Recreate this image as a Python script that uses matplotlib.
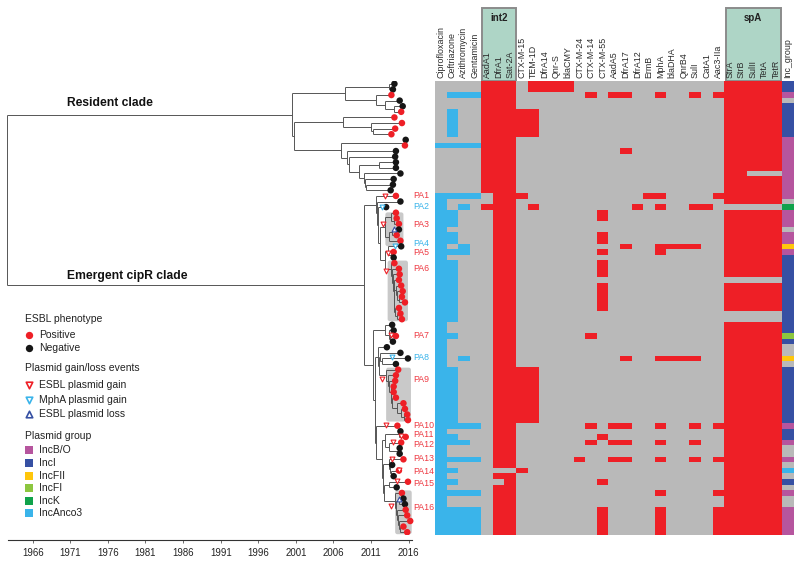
import numpy as np
import matplotlib
matplotlib.use('Agg')
import matplotlib.pyplot as plt
from matplotlib.collections import LineCollection
from matplotlib.colors import ListedColormap
from matplotlib.patches import FancyBboxPatch, Rectangle

plt.rcParams['font.family'] = ['Liberation Sans', 'DejaVu Sans']

# ---- heatmap columns
columns = ['Ciprofloxacin', 'Ceftriazone', 'Azithromycin', 'Gentamicin',
           'AadA1', 'DfrA1', 'Sat-2A', 'CTX-M-15', 'TEM-1D', 'DfrA14', 'Qnr-S',
           'blaCMY', 'CTX-M-24', 'CTX-M-14', 'CTX-M-55', 'AadA5', 'DfrA17',
           'DfrA12', 'ErmB', 'MphA', 'blaDHA', 'QnrB4', 'SulI', 'CatA1',
           'Aac3-IIa', 'StrA', 'StrB', 'SulII', 'TetA', 'TetR', 'Inc_group']

# rows (first, last) where each phenotype is resistant
ciprofloxacin = [(11, 11), (20, 80)]
ceftriazone = [(2, 2), (5, 9), (11, 11), (20, 20), (23, 25), (27, 28), (30, 30),
               (32, 42), (45, 45), (51, 61), (63, 64), (67, 67), (69, 69),
               (71, 71), (73, 73), (76, 80)]
azithromycin = [(2, 2), (11, 11), (20, 20), (22, 22), (29, 30), (49, 49),
                (61, 61), (64, 64), (67, 67), (73, 73), (76, 80)]
gentamicin = [(2, 2), (11, 11), (20, 20), (61, 61), (67, 67), (73, 73), (76, 80)]
phenotypes = [ciprofloxacin, ceftriazone, azithromycin, gentamicin]

# rows (first, last) where each gene is present
aada1 = [(0, 19), (22, 22)]
dfra1 = [(0, 68), (70, 70), (72, 80)]
sat2a = [(0, 68), (70, 80)]
ctxm15 = [(5, 9), (20, 20), (51, 60), (69, 69)]
tem1d = [(0, 1), (5, 9), (22, 22), (51, 60)]
dfra14 = [(0, 1)]
qnrs = [(0, 1)]
blacmy = [(0, 1)]
ctxm24 = [(67, 67)]
ctxm14 = [(2, 2), (45, 45), (61, 61), (64, 64)]
ctxm55 = [(23, 24), (27, 28), (30, 30), (32, 34), (36, 40), (63, 63), (71, 71), (76, 80)]
aada5 = [(2, 2), (61, 61), (64, 64), (67, 67)]
dfra17 = [(2, 2), (12, 12), (29, 29), (49, 49), (61, 61), (64, 64), (67, 67)]
dfra12 = [(22, 22)]
ermb = [(20, 20)]
mpha = [(2, 2), (20, 20), (22, 22), (29, 30), (49, 49), (61, 61), (64, 64), (67, 67), (73, 73), (76, 80)]
bladha = [(29, 29), (49, 49)]
qnrb4 = [(29, 29), (49, 49)]
suli = [(2, 2), (22, 22), (29, 29), (49, 49), (61, 61), (64, 64), (67, 67)]
cata1 = [(22, 22)]
aac3 = [(2, 2), (20, 20), (61, 61), (67, 67), (73, 73), (76, 80)]
stra = [(0, 21), (23, 34), (36, 40), (43, 80)]
strb = [(0, 21), (23, 34), (36, 40), (43, 80)]
sulii = [(0, 15), (17, 21), (23, 34), (36, 40), (43, 80)]
teta = [(0, 15), (17, 21), (23, 34), (36, 40), (43, 80)]
tetr = [(0, 15), (17, 21), (23, 34), (36, 40), (43, 80)]
genes = [aada1, dfra1, sat2a, ctxm15, tem1d, dfra14, qnrs, blacmy, ctxm24, ctxm14,
         ctxm55, aada5, dfra17, dfra12, ermb, mpha, bladha, qnrb4, suli, cata1,
         aac3, stra, strb, sulii, teta, tetr]

plasmid_groups = ['IncB/O', 'IncI', 'IncFII', 'IncFI', 'IncK', 'IncAnco3']
inc_group = [(0, 1, 'IncI'), (2, 2, 'IncB/O'), (4, 9, 'IncI'), (10, 20, 'IncB/O'),
             (22, 22, 'IncK'), (23, 25, 'IncB/O'), (27, 28, 'IncB/O'), (29, 29, 'IncFII'),
             (30, 30, 'IncB/O'), (31, 44, 'IncI'), (45, 45, 'IncFI'), (46, 46, 'IncI'),
             (49, 49, 'IncFII'), (51, 60, 'IncI'), (61, 61, 'IncB/O'), (62, 63, 'IncI'),
             (64, 64, 'IncB/O'), (67, 67, 'IncB/O'), (69, 69, 'IncAnco3'), (71, 71, 'IncI'),
             (73, 73, 'IncB/O'), (76, 80, 'IncB/O')]

# ---- tree tips, one for each heatmap row
tip_years = [2014.1, 2013.9, 2013.7, 2014.8, 2015.2, 2015.0, 2014.1, 2015.1, 2014.2, 2013.7,
             2015.6, 2015.5, 2014.3, 2014.2, 2014.3, 2014.3, 2014.9, 2014.0, 2013.9, 2013.6,
             2014.3, 2014.9, 2013.0, 2014.3, 2014.4, 2014.7, 2014.7, 2014.4, 2014.9, 2015.0,
             2014.0, 2014.0, 2014.1, 2014.7, 2014.8, 2014.7, 2015.0, 2015.2, 2015.1, 2015.5,
             2014.7, 2014.9, 2015.1, 2013.8, 2014.0, 2014.3, 2013.9, 2013.1, 2014.9, 2015.9,
             2014.3, 2014.6, 2014.3, 2014.2, 2014.0, 2014.0, 2014.3, 2015.3, 2015.5, 2015.8,
             2015.9, 2014.5, 2014.9, 2015.6, 2015.0, 2014.8, 2014.8, 2015.3, 2013.8, 2014.7,
             2014.0, 2015.9, 2014.4, 2015.1, 2015.3, 2015.5, 2015.6, 2015.8, 2016.2, 2015.3,
             2015.8]
esbl_negative = [0, 1, 3, 4, 10, 12, 13, 14, 15, 16, 17, 18, 19, 21, 22, 26, 29, 31, 43, 44,
                 46, 47, 48, 49, 50, 62, 65, 66, 68, 70, 72, 74, 75]

# clades are (node year, [children]), a child being a tip row or another clade
resident_upper = (2007.5, [(2013.4, [0, 1]),
                           (2011.6, [2, (2012.9, [3, (2014.0, [4, 5])])])])
resident_mid = (2007.2, [6, (2011.0, [7, (2011.3, [8, 9])])])
resident_low = (2007.0, [(2015.4, [10, 11]),
                         (2007.8, [12, (2008.0, [13, (2009.4, [(2012.0, [14, 15]),
                          (2010.0, [16, (2010.2, [17, (2010.3, [18, 19])])])])])])])
resident_clade = (2000.5, [resident_upper, (2000.8, [resident_mid, resident_low])])

pa3 = (2012.9, [(2013.7, [23, (2014.0, [24, 25])]), (2013.4, [(2013.8, [26, 27]), 28])])
pa6 = (2013.7, [32, (2013.8, [33, (2013.9, [34, (2014.0, [35, (2014.1, [
    (2014.3, [36, (2014.5, [37, (2014.7, [38, 39])])]),
    (2014.2, [40, (2014.4, [41, 42])])])])])])])
pa4_6 = (2012.8, [(2013.3, [29, (2013.7, [30, 31])]), pa6])
pa1_6 = (2011.7, [20, (2011.8, [21, (2011.9, [22, (2012.2, [pa3, pa4_6])])])])
pa7 = (2012.8, [43, (2013.4, [44, (2013.5, [45, 46])])])
pa9 = (2013.0, [51, (2013.2, [52, (2013.4, [53, (2013.6, [54, (2013.6, [55, (2013.8, [56,
       (2014.4, [57, (2015.0, [58, (2015.4, [59, 60])])])])])])])])])
pa8_9 = (2011.9, [47, (2012.1, [(2012.2, [48, (2012.4, [49, 50])]), pa9])])
pa11_12 = (2012.8, [(2014.7, [62, 63]), (2013.4, [64, (2014.6, [65, 66])])])
pa13_14 = (2013.4, [67, (2013.5, [68, (2013.6, [69, 70])])])
pa16 = (2014.2, [73, (2014.3, [(2014.7, [74, 75]),
        (2014.5, [76, (2014.6, [77, (2014.7, [78, (2014.8, [79, 80])])])])])])
pa15_16 = (2012.7, [(2013.4, [71, 72]), pa16])
pa10_16 = (2011.7, [61, (2012.5, [pa11_12, (2012.6, [pa13_14, pa15_16])])])
emergent_clade = (2010.1, [pa1_6, (2011.3, [pa7, (2011.5, [pa8_9, pa10_16])])])
tree = (1962.6, [resident_clade, emergent_clade])

# plasmid events (year, row)
esbl_gain = [(2012.8, 20), (2012.6, 25.1), (2013.3, 30.2), (2013.0, 33.4), (2013.6, 44.9),
             (2012.4, 52.6), (2013.0, 60.9), (2015.0, 62.9), (2013.9, 63.9), (2013.8, 66.9),
             (2014.7, 68.9), (2014.4, 70.9), (2013.7, 75.3)]
mpha_gain = [(2012.4, 21.9), (2014.2, 28.9), (2013.8, 48.8)]
esbl_loss = [(2014.0, 25.9), (2014.7, 74)]

pa_labels = ['PA1', 'PA2', 'PA3', 'PA4', 'PA5', 'PA6', 'PA7', 'PA8', 'PA9', 'PA10',
             'PA11', 'PA12', 'PA13', 'PA14', 'PA15', 'PA16']
pa_rows = [19.9, 21.9, 25.2, 28.55, 30.2, 33, 44.9, 48.8, 52.8, 61.05, 62.7, 64.4, 66.9,
           69.3, 71.3, 75.6]
pa_mpha = ['PA2', 'PA4', 'PA8']

# shaded clades: year from, year to, row from, row to
shaded = [(2012.9, 2015.3, 22.9, 29.0), (2013.2, 2015.9, 31.5, 42.4),
          (2013.0, 2016.3, 50.6, 60.3), (2014.2, 2016.4, 72.5, 80.4)]

year_ticks = [1966, 1971, 1976, 1981, 1986, 1991, 1996, 2001, 2006, 2011, 2016]

RED = '#ee1f26'
BLACK = '#161616'
CYAN = '#3ab4ea'
GREY = '#b9b9b9'
NAVY = '#3650a3'
inc_colours = {'IncB/O': '#b6559e', 'IncI': '#3650a3', 'IncFII': '#ffc60b',
               'IncFI': '#8cc63f', 'IncK': '#10a24b', 'IncAnco3': '#3ab4ea'}

W, H = 800, 561
fig = plt.figure(figsize=(W / 100, H / 100), dpi=100)


def px_axes(left, top, right, bottom, **kw):
    return fig.add_axes([left / W, 1 - bottom / H, (right - left) / W, (bottom - top) / H], **kw)


# overlay in pixels for the legend and header boxes
ax_top = px_axes(0, 0, W, H, zorder=0)
ax_top.set_xlim(0, W)
ax_top.set_ylim(H, 0)
ax_top.axis('off')

# ---- heatmap
n_rows = len(tip_years)
cells = np.zeros((n_rows, len(columns)), dtype=int)
for c, spans in enumerate(phenotypes):
    for first, last in spans:
        cells[first:last + 1, c] = 1
for c, spans in enumerate(genes):
    for first, last in spans:
        cells[first:last + 1, c + len(phenotypes)] = 2
for first, last, group in inc_group:
    cells[first:last + 1, -1] = 3 + plasmid_groups.index(group)

ax_heat = px_axes(435, 81, 793.5, 535, zorder=2)
cmap = ListedColormap([GREY, CYAN, RED] + [inc_colours[g] for g in plasmid_groups])
ax_heat.pcolormesh(np.arange(len(columns) + 1), np.arange(n_rows + 1), cells, cmap=cmap,
                   vmin=0, vmax=8)
ax_heat.set_ylim(n_rows, 0)
ax_heat.set_yticks([])
ax_heat.xaxis.tick_top()
ax_heat.set_xticks(np.arange(len(columns)) + 0.5)
ax_heat.set_xticklabels(columns, rotation=90, fontsize=6.4, color='#2a2a2a')
ax_heat.tick_params(axis='x', length=0, pad=2)
for s in ax_heat.spines.values():
    s.set_visible(False)

# int2 and spA header boxes
for name, x0, x1 in [('int2', 481.5, 516), ('spA', 725.5, 781)]:
    ax_top.add_patch(Rectangle((x0, 7.5), x1 - x0, 73.5, facecolor='#aed5c6',
                               edgecolor='#8b8b8b', linewidth=1.4))
    ax_top.text((x0 + x1) / 2, 17.7, name, ha='center', va='center', fontsize=7,
                fontweight='bold', color='#222222')

# ---- tree
ax_tree = px_axes(0, 81, 430, 535, zorder=1)
ax_tree.patch.set_visible(False)
ax_tree.set_xlim(2016 - 408.7 / 7.52, 2016 + 21.3 / 7.52)
ax_tree.set_ylim(n_rows - 0.5, -0.5)

segments = []


def walk(node, parent_year):
    if isinstance(node, int):
        segments.append([(parent_year, node), (tip_years[node], node)])
        return node
    year, children = node
    ys = [walk(child, year) for child in children]
    y = (min(ys) + max(ys)) / 2
    segments.append([(year, min(ys)), (year, max(ys))])
    if parent_year is not None:
        segments.append([(parent_year, y), (year, y)])
    return y


walk(tree, None)

for y0, y1, r0, r1 in shaded:
    ax_tree.add_patch(FancyBboxPatch((y0 + 0.2, r0 + 0.3), y1 - y0 - 0.4, r1 - r0 - 0.6,
                                     boxstyle='round,pad=0.2,rounding_size=0.3',
                                     mutation_aspect=1.3, facecolor='#c9c9c9',
                                     edgecolor='none', zorder=1))
ax_tree.add_collection(LineCollection(segments, colors='#555555', linewidths=0.7, zorder=2))

tip_colours = [BLACK if r in esbl_negative else RED for r in range(n_rows)]
ax_tree.scatter(tip_years, range(n_rows), s=22, c=tip_colours, linewidths=0, zorder=3)

for events, marker, colour in [(esbl_gain, 'v', RED), (mpha_gain, 'v', CYAN), (esbl_loss, '^', NAVY)]:
    ax_tree.scatter([e[0] for e in events], [e[1] for e in events], s=12, marker=marker,
                    facecolors='white', edgecolors=colour, linewidths=0.8, zorder=4)

for label, row in zip(pa_labels, pa_rows):
    colour = CYAN if label in pa_mpha else '#ee3a43'
    ax_top.text(413, 81 + 5.6 * (row + 0.5), label, ha='left', va='center', fontsize=6.3,
                color=colour)

for side in ['top', 'left', 'right']:
    ax_tree.spines[side].set_visible(False)
ax_tree.spines['bottom'].set_position(('outward', 3.6))
ax_tree.spines['bottom'].set_bounds(2016 - 400.7 / 7.52, 2016.4)
ax_tree.spines['bottom'].set_linewidth(0.8)
ax_tree.spines['bottom'].set_color('#333333')
ax_tree.set_yticks([])
ax_tree.set_xticks(year_ticks)
ax_tree.tick_params(axis='x', length=2.5, width=0.5, pad=3.2, labelsize=6.9, color='#333333',
                    labelcolor='#222222')

ax_top.text(67, 103.3, 'Resident clade', fontsize=8.7, fontweight='bold', va='center', color='#111111')
ax_top.text(67, 275.5, 'Emergent cipR clade', fontsize=8.7, fontweight='bold', va='center', color='#111111')

# ---- legend
LEG = 7.5
ax_top.text(25, 319, 'ESBL phenotype', fontsize=LEG, va='center', color='#222222')
ax_top.scatter([29], [335], s=28, c=RED, linewidths=0)
ax_top.text(38.7, 335, 'Positive', fontsize=LEG, va='center', color='#222222')
ax_top.scatter([29], [348.3], s=28, c=BLACK, linewidths=0)
ax_top.text(38.7, 348.3, 'Negative', fontsize=LEG, va='center', color='#222222')

ax_top.text(25, 368.3, 'Plasmid gain/loss events', fontsize=LEG, va='center', color='#222222')
for y, name, marker, colour in [(385, 'ESBL plasmid gain', 'v', RED),
                                (400.3, 'MphA plasmid gain', 'v', CYAN),
                                (414.3, 'ESBL plasmid loss', '^', NAVY)]:
    ax_top.scatter([29], [y], s=22, marker=marker, facecolors='white', edgecolors=colour, linewidths=1.2)
    ax_top.text(38.7, y, name, fontsize=LEG, va='center', color='#222222')

ax_top.text(25, 436, 'Plasmid group', fontsize=LEG, va='center', color='#222222')
for y, name in zip([450, 463, 475.7, 488.3, 501, 513.3], plasmid_groups):
    ax_top.scatter([29], [y], s=28, marker='s', c=inc_colours[name], linewidths=0)
    ax_top.text(38.7, y, name, fontsize=LEG, va='center', color='#222222')

fig.savefig('out.png', dpi=100)
